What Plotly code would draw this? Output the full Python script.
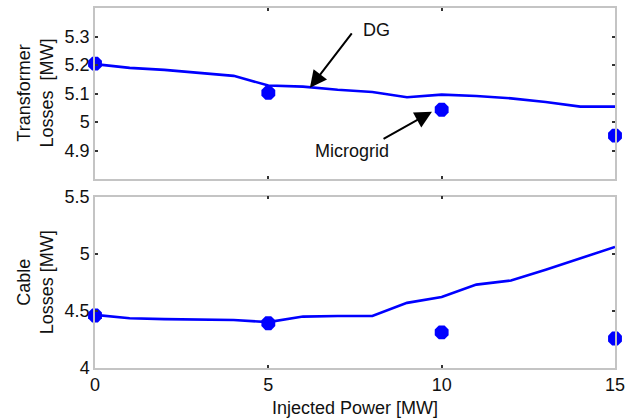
import plotly.graph_objects as go

# Injected power levels (MW)
power = list(range(16))
micro_power = [0, 5, 10, 15]

# Transformer losses [MW]
dg_transformer = [5.203, 5.190, 5.183, 5.172, 5.162, 5.128, 5.124, 5.113,
                  5.105, 5.087, 5.096, 5.091, 5.083, 5.070, 5.054, 5.054]
micro_transformer = [5.205, 5.102, 5.043, 4.952]

# Cable losses [MW]
dg_cable = [4.465, 4.435, 4.428, 4.427, 4.420, 4.402, 4.450, 4.455,
            4.455, 4.570, 4.622, 4.730, 4.766, 4.860, 4.960, 5.060]
micro_cable = [4.460, 4.392, 4.312, 4.258]

BLUE = "#0000ff"
FONT = "Liberation Sans, Arial, sans-serif"

fig = go.Figure()

fig.add_trace(go.Scatter(x=power, y=dg_transformer, mode="lines",
                         line=dict(color=BLUE, width=2.6), xaxis="x", yaxis="y"))
fig.add_trace(go.Scatter(x=micro_power, y=micro_transformer, mode="markers",
                         marker=dict(color=BLUE, size=15, symbol="octagon"),
                         xaxis="x", yaxis="y", cliponaxis=False))
fig.add_trace(go.Scatter(x=power, y=dg_cable, mode="lines",
                         line=dict(color=BLUE, width=2.6), xaxis="x2", yaxis="y2"))
fig.add_trace(go.Scatter(x=micro_power, y=micro_cable, mode="markers",
                         marker=dict(color=BLUE, size=15, symbol="octagon"),
                         xaxis="x2", yaxis="y2", cliponaxis=False))

axis_common = dict(
    showline=True, linecolor="#c4c4c4", linewidth=1.5, mirror="ticks",
    ticks="inside", ticklen=3, tickcolor="#333333", tickwidth=1.5,
    showgrid=False, zeroline=False,
    tickfont=dict(family=FONT, size=18, color="#111111"),
)

fig.update_layout(
    width=640, height=420,
    margin=dict(l=95, r=25, t=8, b=52, autoexpand=False),
    paper_bgcolor="white", plot_bgcolor="white",
    showlegend=False,
    font=dict(family=FONT, size=18, color="#111111"),
    xaxis=dict(domain=[0, 1], range=[0, 15], tickvals=[0, 5, 10, 15],
               showticklabels=False, anchor="y", **axis_common),
    yaxis=dict(domain=[0.525, 1], range=[4.8, 5.4],
               tickvals=[4.9, 5.0, 5.1, 5.2, 5.3],
               ticktext=["4.9", "5", "5.1", "5.2", "5.3"],
               anchor="x", **axis_common),
    xaxis2=dict(domain=[0, 1], range=[0, 15], tickvals=[0, 5, 10, 15],
                anchor="y2", **axis_common),
    yaxis2=dict(domain=[0, 0.476], range=[4, 5.5],
                tickvals=[4, 4.5, 5, 5.5],
                ticktext=["4", "4.5", "5", "5.5"],
                anchor="x2", **axis_common),
)

annotations = [
    # y-axis titles
    dict(text="Transformer<br>Losses  [MW]", xref="paper", yref="paper",
         x=0, y=0.7625, xanchor="center", yanchor="middle", xshift=-60,
         textangle=-90, showarrow=False, font=dict(family=FONT, size=18)),
    dict(text="Cable<br>Losses [MW]", xref="paper", yref="paper",
         x=0, y=0.238, xanchor="center", yanchor="middle", xshift=-60,
         textangle=-90, showarrow=False, font=dict(family=FONT, size=18)),
    # x-axis title
    dict(text="Injected Power [MW]", xref="paper", yref="paper",
         x=0.5, y=0, xanchor="center", yanchor="middle", yshift=-40,
         showarrow=False, font=dict(family=FONT, size=18)),
    # DG label and arrow
    dict(text="DG", x=8.13, y=5.323, xref="x", yref="y", showarrow=False,
         font=dict(family=FONT, size=18)),
    dict(text="", x=6.2, y=5.12, ax=7.44, ay=5.316, xref="x", yref="y",
         axref="x", ayref="y", showarrow=True, arrowhead=2, arrowsize=1.7,
         arrowwidth=2, arrowcolor="black"),
    # Microgrid label and arrow
    dict(text="Microgrid", x=7.41, y=4.9, xref="x", yref="y", showarrow=False,
         font=dict(family=FONT, size=18)),
    dict(text="", x=9.72, y=5.036, ax=8.28, ay=4.938, xref="x", yref="y",
         axref="x", ayref="y", showarrow=True, arrowhead=2, arrowsize=1.7,
         arrowwidth=2, arrowcolor="black"),
]
fig.update_layout(annotations=annotations)

fig.write_html("out.html")
